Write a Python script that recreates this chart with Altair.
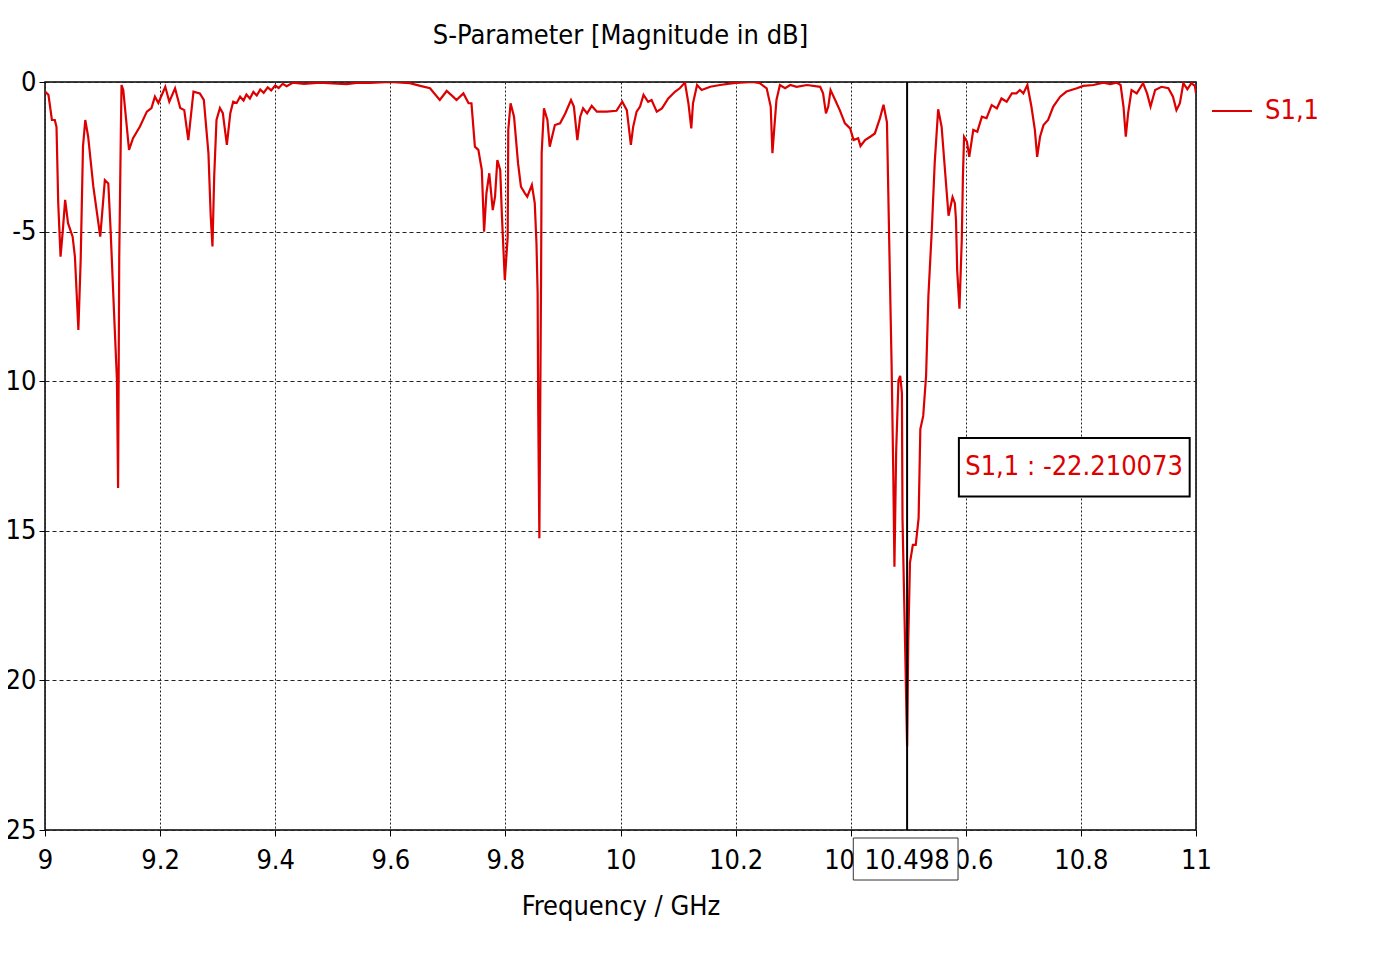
import altair as alt
import pandas as pd

# ---- data ----
freq_ghz = [
    9.000, 9.006, 9.012, 9.017, 9.020, 9.023, 9.027, 9.031, 9.035, 9.040,
    9.048, 9.052, 9.058, 9.062, 9.066, 9.070, 9.075, 9.084, 9.096, 9.104,
    9.110, 9.114, 9.120, 9.125, 9.127, 9.129, 9.132, 9.133, 9.136, 9.141,
    9.146, 9.153, 9.165, 9.177, 9.185, 9.191, 9.197, 9.209, 9.216, 9.226,
    9.235, 9.242, 9.249, 9.258, 9.269, 9.276, 9.284, 9.288, 9.291, 9.294,
    9.298, 9.304, 9.309, 9.316, 9.322, 9.327, 9.333, 9.339, 9.345, 9.350,
    9.356, 9.362, 9.368, 9.374, 9.380, 9.387, 9.393, 9.400, 9.406, 9.413,
    9.420, 9.431, 9.450, 9.478, 9.500, 9.524, 9.545, 9.565, 9.599, 9.634,
    9.652, 9.669, 9.686, 9.698, 9.709, 9.715, 9.727, 9.736, 9.741, 9.747,
    9.753, 9.759, 9.763, 9.767, 9.772, 9.778, 9.782, 9.786, 9.791, 9.794,
    9.799, 9.804, 9.805, 9.809, 9.815, 9.822, 9.827, 9.834, 9.838, 9.846,
    9.851, 9.854, 9.856, 9.857, 9.859, 9.862, 9.863, 9.867, 9.873, 9.877,
    9.886, 9.895, 9.904, 9.914, 9.919, 9.925, 9.930, 9.935, 9.942, 9.950,
    9.959, 9.976, 9.993, 10.003, 10.011, 10.018, 10.022, 10.028, 10.034, 10.040,
    10.048, 10.054, 10.063, 10.072, 10.083, 10.095, 10.103, 10.112, 10.118, 10.123,
    10.126, 10.133, 10.141, 10.156, 10.173, 10.196, 10.208, 10.230, 10.242, 10.254,
    10.261, 10.264, 10.267, 10.271, 10.277, 10.286, 10.295, 10.306, 10.324, 10.347,
    10.352, 10.357, 10.361, 10.365, 10.373, 10.381, 10.390, 10.399, 10.405, 10.413,
    10.417, 10.425, 10.434, 10.442, 10.451, 10.457, 10.463, 10.468, 10.471, 10.474,
    10.476, 10.479, 10.483, 10.486, 10.489, 10.490, 10.494, 10.498, 10.500, 10.503,
    10.508, 10.513, 10.518, 10.521, 10.526, 10.531, 10.535, 10.541, 10.546, 10.552,
    10.558, 10.564, 10.570, 10.577, 10.581, 10.583, 10.585, 10.589, 10.593, 10.595,
    10.597, 10.602, 10.606, 10.613, 10.620, 10.628, 10.636, 10.645, 10.654, 10.662,
    10.671, 10.680, 10.688, 10.694, 10.700, 10.707, 10.714, 10.720, 10.724, 10.729,
    10.735, 10.743, 10.752, 10.764, 10.775, 10.793, 10.804, 10.822, 10.839, 10.851,
    10.862, 10.869, 10.874, 10.878, 10.882, 10.888, 10.897, 10.908, 10.915, 10.921,
    10.929, 10.940, 10.952, 10.960, 10.966, 10.972, 10.978, 10.985, 10.992, 10.998,
    11.000,
]
s11_db = [
    -0.32, -0.43, -1.27, -1.27, -1.50, -4.05, -5.84, -4.95, -3.94, -4.72,
    -5.17, -5.84, -8.29, -5.95, -2.16, -1.27, -1.83, -3.50, -5.17, -3.28,
    -3.39, -4.95, -7.72, -9.96, -13.57, -5.84, -1.38, -0.10, -0.27, -1.27,
    -2.27, -1.88, -1.49, -0.99, -0.87, -0.49, -0.70, -0.16, -0.66, -0.21,
    -0.87, -0.94, -1.94, -0.32, -0.38, -0.60, -2.38, -4.50, -5.50, -3.16,
    -1.27, -0.87, -1.04, -2.10, -1.04, -0.66, -0.70, -0.49, -0.62, -0.42,
    -0.55, -0.33, -0.45, -0.25, -0.36, -0.18, -0.28, -0.12, -0.20, -0.06,
    -0.14, -0.02, -0.06, -0.02, -0.05, -0.07, -0.02, -0.03, 0.00, -0.04,
    -0.13, -0.21, -0.60, -0.30, -0.49, -0.60, -0.38, -0.71, -0.71, -2.16,
    -2.27, -2.94, -5.00, -3.72, -3.05, -4.28, -3.83, -2.61, -2.94, -4.50,
    -6.62, -5.17, -1.60, -0.71, -1.16, -2.72, -3.50, -3.72, -3.83, -3.44,
    -4.05, -5.39, -7.06, -10.85, -15.25, -6.51, -2.38, -0.88, -1.27, -2.16,
    -1.44, -1.38, -1.05, -0.60, -0.82, -1.94, -1.16, -0.88, -1.05, -0.80,
    -0.99, -0.99, -0.96, -0.66, -0.94, -2.10, -1.50, -0.99, -0.82, -0.43,
    -0.66, -0.60, -0.99, -0.88, -0.55, -0.32, -0.21, -0.02, -0.71, -1.55,
    -0.71, -0.10, -0.27, -0.16, -0.10, -0.04, -0.02, 0.00, -0.04, -0.21,
    -0.82, -2.38, -1.60, -0.60, -0.10, -0.21, -0.10, -0.16, -0.10, -0.16,
    -0.38, -1.05, -0.82, -0.27, -0.60, -0.94, -1.38, -1.55, -1.94, -1.88,
    -2.14, -1.94, -1.83, -1.72, -1.20, -0.76, -1.35, -6.40, -9.38, -13.09,
    -16.20, -12.35, -9.97, -9.82, -10.40, -14.58, -18.30, -22.21, -18.70, -16.06,
    -15.47, -15.47, -14.58, -11.60, -11.16, -9.82, -7.15, -4.92, -2.69, -0.91,
    -1.50, -2.99, -4.47, -3.85, -4.05, -4.62, -6.28, -7.58, -5.28, -3.16,
    -1.83, -1.99, -2.50, -1.60, -1.66, -1.16, -1.21, -0.77, -0.88, -0.55,
    -0.66, -0.38, -0.38, -0.27, -0.38, -0.10, -0.82, -1.60, -2.50, -1.83,
    -1.44, -1.27, -0.82, -0.49, -0.32, -0.21, -0.13, -0.10, -0.02, -0.07,
    -0.02, -0.10, -0.82, -1.83, -1.05, -0.27, -0.38, -0.04, -0.38, -0.82,
    -0.27, -0.16, -0.21, -0.49, -0.94, -0.71, -0.04, -0.24, -0.04, -0.13,
    -0.38,
]
series_name = "S1,1"
x_ticks = [9, 9.2, 9.4, 9.6, 9.8, 10, 10.2, 10.4, 10.6, 10.8, 11]
y_ticks = [0, -5, -10, -15, -20, -25]
marker_freq = 10.498
marker_value = -22.210073
marker_label = "10.498"
readout_text = "S1,1 : -22.210073"

# ---- styling ----
FONT = "DejaVu Sans Condensed, DejaVu Sans"
RED = "#dd0000"
FS = 27

df = pd.DataFrame({"f": freq_ghz, "s": s11_db, "series": series_name})

x_scale = alt.Scale(domain=[9, 11], nice=False, zero=False)
y_scale = alt.Scale(domain=[-25, 0], nice=False, zero=False)

line = alt.Chart(df).mark_line(strokeWidth=2.2, clip=True).encode(
    x=alt.X("f:Q", scale=x_scale,
            axis=alt.Axis(values=x_ticks, title="Frequency / GHz",
                          labelExpr="'' + datum.value", labelFlush=False,
                          titlePadding=20, labelPadding=11,
                          gridDash=[2, 2])),
    y=alt.Y("s:Q", scale=y_scale,
            axis=alt.Axis(values=y_ticks, title=None, labelFlush=False,
                          labelExpr="'' + datum.value", labelPadding=3,
                          gridDash=[4, 3])),
    color=alt.Color("series:N", scale=alt.Scale(range=[RED]),
                    legend=alt.Legend(orient="none", legendX=1166, legendY=8,
                                      title=None, symbolType="stroke",
                                      symbolSize=1600, symbolStrokeWidth=2,
                                      labelFontSize=FS, labelFont=FONT,
                                      labelColor=RED, labelOffset=12)),
)

marker = alt.Chart(pd.DataFrame({"f": [marker_freq]})).mark_rule(
    color="black", strokeWidth=2).encode(x=alt.X("f:Q", scale=x_scale))

# readout box (data-space placement)
box_df = pd.DataFrame({"x1": [10.588], "x2": [10.989], "y1": [-11.9], "y2": [-13.85]})
readout_box = alt.Chart(box_df).mark_rect(
    fill="white", stroke="black", strokeWidth=2).encode(
    x=alt.X("x1:Q", scale=x_scale), x2="x2:Q",
    y=alt.Y("y1:Q", scale=y_scale), y2="y2:Q")
readout_txt = alt.Chart(pd.DataFrame({"x": [10.599], "y": [-12.88], "t": [readout_text]})).mark_text(
    align="left", baseline="middle", font=FONT, fontSize=FS, color=RED).encode(
    x=alt.X("x:Q", scale=x_scale), y=alt.Y("y:Q", scale=y_scale), text="t:N")

# marker label box on the x axis
lab_df = pd.DataFrame({"x1": [10.4045], "x2": [10.5865], "xc": [marker_freq], "t": [marker_label]})
lab_box = alt.Chart(lab_df).mark_rect(
    fill="white", stroke="#333333", strokeWidth=1).encode(
    x=alt.X("x1:Q", scale=x_scale), x2="x2:Q",
    y=alt.value(756), y2=alt.value(798))
lab_txt = alt.Chart(lab_df).mark_text(
    align="center", baseline="middle", font=FONT, fontSize=FS, color="black").encode(
    x=alt.X("xc:Q", scale=x_scale), y=alt.value(779), text="t:N")

chart = alt.layer(line, marker, readout_box, readout_txt, lab_box, lab_txt).properties(
    width=1151, height=748,
    title=alt.Title("S-Parameter [Magnitude in dB]", font=FONT, fontSize=FS,
                    fontWeight="normal", color="black", anchor="middle", offset=18),
    autosize=alt.AutoSizeParams(type="none"),
    padding={"left": 37, "top": 74, "right": 170, "bottom": 110},
).configure_view(
    stroke="black", strokeWidth=1.5
).configure_axis(
    labelFont=FONT, labelFontSize=FS, labelColor="black",
    titleFont=FONT, titleFontSize=FS, titleFontWeight="normal", titleColor="black",
    grid=True, gridColor="#222222", gridWidth=1, gridOpacity=1,
    domain=False, tickColor="black", tickSize=6,
)

chart.save("out.html", embed_options={"renderer": "svg", "actions": False})
